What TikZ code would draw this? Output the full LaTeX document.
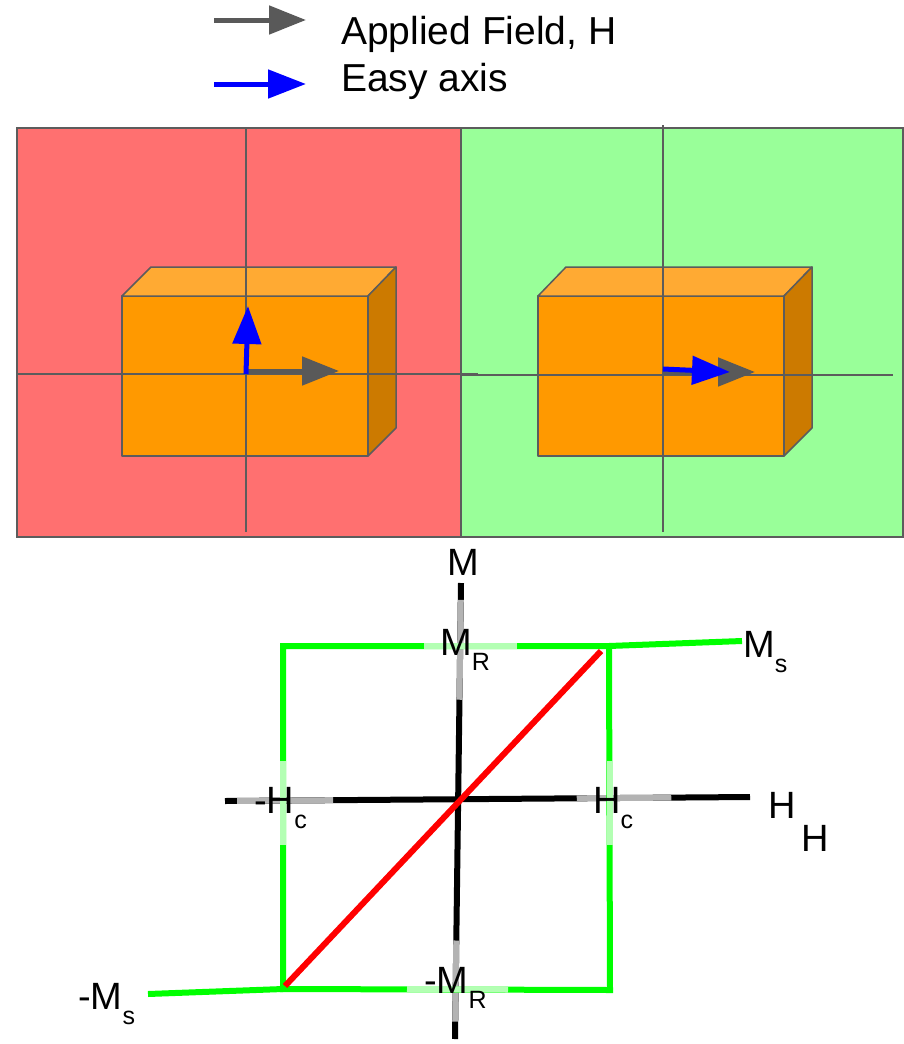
\documentclass[tikz,border=0pt]{standalone}
\usepackage{fontspec}
\setmainfont{Liberation Sans}
\usetikzlibrary{arrows.meta,calc}
\definecolor{panelred}{RGB}{255,112,112}
\definecolor{panelgreen}{RGB}{153,255,153}
\definecolor{edgegray}{RGB}{92,92,92}
\definecolor{frontor}{RGB}{255,153,0}
\definecolor{topor}{RGB}{255,170,51}
\definecolor{sideor}{RGB}{204,122,0}
\definecolor{fieldgray}{RGB}{89,89,89}
\definecolor{easyblue}{RGB}{0,0,255}
\definecolor{lgreen}{RGB}{179,255,179}
\definecolor{lgray}{RGB}{179,179,179}
\definecolor{loopgreen}{RGB}{0,255,0}
\newcommand\lowsub[1]{\raisebox{-15pt}{\fontsize{25}{30}\selectfont #1}}
\begin{document}
\begin{tikzpicture}[x=1pt,y=-1pt,
  legtext/.style={font=\fontsize{39}{46}\selectfont, inner sep=0pt, anchor=base west},
  lbl/.style={font=\fontsize{38}{44}\selectfont, inner sep=0pt, anchor=base west},
  fieldarrow/.style={draw=fieldgray, line width=5pt, -{Triangle[length=37pt,width=28pt]}},
  easyarrow/.style={draw=easyblue, line width=5pt, -{Triangle[length=38pt,width=28pt]}},
  panel/.style={draw=edgegray, line width=1.5pt},
  crossline/.style={draw=edgegray, line width=1.5pt},
  boxface/.style={draw=edgegray, line width=1.5pt, line join=round},
  loop/.style={draw=loopgreen, line width=6pt},
  loopfaint/.style={draw=lgreen, line width=6pt},
  axisline/.style={draw=black, line width=6pt},
  axisfaint/.style={draw=lgray, line width=6pt},
  redline/.style={draw=red, line width=6pt}
]
\useasboundingbox (0,0) rectangle (904,1044);

% ---------- legend ----------
\coordinate (lg1s) at (214,20);
\coordinate (lg1e) at (306,20);
\coordinate (lg2s) at (214,84);
\coordinate (lg2e) at (306,84);
\draw[fieldarrow] (lg1s) -- (lg1e);
\draw[easyarrow] (lg2s) -- (lg2e);
\node[legtext] (legH) at (341,44) {Applied Field, H};
\node[legtext] (legE) at (341,91) {Easy axis};

% ---------- panels ----------
\fill[panelred] (17,128) rectangle (461,537);
\fill[panelgreen] (461,128) rectangle (903,537);
\draw[panel] (17,128) rectangle (461,537);
\draw[panel] (461,128) rectangle (903,537);

% left box
\filldraw[boxface, fill=frontor] (122,296) rectangle (368,456);
\filldraw[boxface, fill=topor] (122,296) -- (151,267) -- (396,267) -- (368,296) -- cycle;
\filldraw[boxface, fill=sideor] (368,296) -- (396,267) -- (396,428) -- (368,456) -- cycle;
% right box
\filldraw[boxface, fill=frontor] (538,296) rectangle (784,456);
\filldraw[boxface, fill=topor] (538,296) -- (566,267) -- (812,267) -- (784,296) -- cycle;
\filldraw[boxface, fill=sideor] (784,296) -- (812,267) -- (812,428) -- (784,456) -- cycle;

% crosshairs
\draw[crossline] (246,128) -- (246,532);
\draw[crossline] (17,374) -- (478,374);
\draw[crossline] (663,125) -- (663,532);
\draw[crossline] (462,375) -- (893,375);

% arrows in left box
\coordinate (lfs) at (245,371);
\coordinate (lfe) at (339,371);
\coordinate (les) at (246,374);
\coordinate (lee) at (248,306);
\draw[fieldarrow] (lfs) -- (lfe);
\draw[easyarrow] (les) -- (lee);
% arrows in right box
\coordinate (rfs) at (663,372);
\coordinate (rfe) at (755,372);
\coordinate (res) at (663,369);
\coordinate (ree) at (730,372);
\draw[fieldarrow] (rfs) -- (rfe);
\draw[easyarrow] (res) -- (ree);

% ---------- hysteresis graph ----------
% axes
\coordinate (hl) at (225,801);
\coordinate (hr) at (750,797);
\coordinate (mt) at (461,583);
\coordinate (mb) at (455,1039);
\draw[axisline] (hl) -- (hr);
\draw[axisline] (mt) -- (mb);
\draw[axisfaint] ($(hl)!0.023!(hr)$) -- ($(hl)!0.206!(hr)$);
\draw[axisfaint] ($(hl)!0.67!(hr)$) -- ($(hl)!0.85!(hr)$);
\draw[axisfaint] ($(mt)!0.037!(mb)$) -- ($(mt)!0.256!(mb)$);
\draw[axisfaint] ($(mt)!0.784!(mb)$) -- ($(mt)!0.962!(mb)$);

% loop
\coordinate (tl) at (283,646);
\coordinate (tr) at (609,646);
\coordinate (ms) at (742,641);
\coordinate (bl) at (283,989);
\coordinate (br) at (610,990);
\coordinate (mms) at (148,994);
\draw[loop, line join=miter] (ms) -- (tr) -- (tl) -- (bl) -- (br) -- (tr);
\draw[loop] (bl) -- (mms);
\draw[loopfaint] (424,646) -- (517,646);
\draw[loopfaint] (407,989) -- (508,989.5);
\draw[loopfaint] (283,761) -- (283,845);
\draw[loopfaint] (609.5,761) -- (609.5,845);

% red line
\coordinate (ra) at (285,986);
\coordinate (rb) at (601,651);
\draw[redline] (ra) -- (rb);

% labels
\node[lbl] (labM) at (447,575) {M};
\node[lbl] (labMR) at (440,655) {M\lowsub{R}};
\node[lbl] (labMs) at (743,657) {M\lowsub{s}};
\node[lbl] (labmHc) at (254,813) {-H\lowsub{c}};
\node[lbl] (labHc) at (593,813) {H\lowsub{c}};
\node[lbl] (labH1) at (768,818) {H};
\node[lbl] (labH2) at (801,851) {H};
\node[lbl] (labmMR) at (424,993) {-M\lowsub{R}};
\node[lbl] (labmMs) at (78,1009) {-M\lowsub{s}};
\end{tikzpicture}
\end{document}
